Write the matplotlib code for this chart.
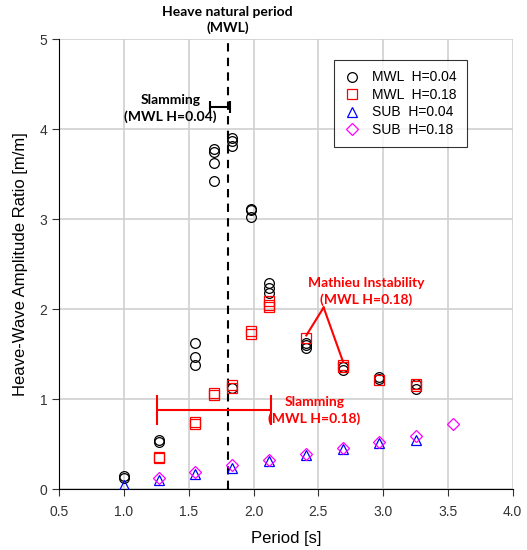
import matplotlib.pyplot as plt
import numpy as np

# heave-wave amplitude ratio vs period

# MWL H=0.04 (circles)
mwl04_x = [1.0, 1.0, 1.268, 1.268, 1.551, 1.551, 1.551, 1.693, 1.693, 1.693, 1.693,
           1.835, 1.835, 1.835, 1.835, 1.977, 1.977, 1.977, 2.121, 2.121, 2.121,
           2.407, 2.407, 2.407, 2.69, 2.69, 2.969, 2.969, 3.253, 3.253]
mwl04_y = [0.15, 0.13, 0.55, 0.53, 1.63, 1.47, 1.38, 3.78, 3.75, 3.63, 3.43,
           3.90, 3.87, 3.82, 1.12, 3.12, 3.10, 3.03, 2.29, 2.24, 2.18,
           1.63, 1.60, 1.57, 1.36, 1.33, 1.25, 1.23, 1.17, 1.11]

# MWL H=0.18 (squares)
mwl18_x = [1.268, 1.268, 1.551, 1.551, 1.693, 1.693, 1.835, 1.835, 1.977, 1.977,
           2.121, 2.121, 2.121, 2.407, 2.69, 2.69, 2.969, 3.253, 3.253]
mwl18_y = [0.36, 0.35, 0.75, 0.72, 1.07, 1.05, 1.16, 1.13, 1.76, 1.72,
           2.09, 2.05, 2.02, 1.68, 1.38, 1.36, 1.21, 1.17, 1.15]

# SUB H=0.04 (triangles)
sub04_x = [1.0, 1.268, 1.551, 1.835, 2.121, 2.407, 2.69, 2.969, 3.253]
sub04_y = [0.05, 0.10, 0.17, 0.24, 0.31, 0.38, 0.45, 0.51, 0.55]

# SUB H=0.18 (diamonds)
sub18_x = [1.268, 1.551, 1.835, 2.121, 2.407, 2.69, 2.969, 3.253, 3.54]
sub18_y = [0.12, 0.19, 0.27, 0.33, 0.39, 0.46, 0.53, 0.59, 0.73]

t_nat = 1.80

fig = plt.figure(figsize=(5.27, 5.5), dpi=100)
ax = fig.add_axes([0.1125, 0.1104, 0.8602, 0.8181])

ms = 7
ax.plot(mwl04_x, mwl04_y, 'o', mfc='none', mec='black', ms=ms, mew=0.9, label='MWL  H=0.04', zorder=3)
ax.plot(mwl18_x, mwl18_y, 's', mfc='none', mec='red', ms=ms, mew=0.9, label='MWL  H=0.18', zorder=4)
ax.plot(sub04_x, sub04_y, '^', mfc='none', mec='blue', ms=ms, mew=0.9, label='SUB  H=0.04', zorder=3)
ax.plot(sub18_x, sub18_y, 'D', mfc='none', mec='magenta', ms=6.5, mew=0.9, label='SUB  H=0.18', zorder=4)

ax.axvline(t_nat, color='black', ls=(0, (4, 3)), lw=1.5, zorder=2)

ax.set_xlim(0.5, 4.0)
ax.set_ylim(0, 5)
ax.set_xticks(np.arange(0.5, 4.01, 0.5))
ax.set_yticks(range(0, 6))
ax.set_xticklabels(['%.1f' % v for v in np.arange(0.5, 4.01, 0.5)])
ax.grid(True, color='#d0d0d0', lw=1.2, zorder=0)
ax.set_axisbelow(True)
for s in ['top', 'right']:
    ax.spines[s].set_visible(False)
ax.tick_params(direction='out', length=5, labelsize=10, colors='#333333')
ax.tick_params(axis='x', pad=6)
for lab in ax.get_xticklabels() + ax.get_yticklabels():
    lab.set_fontfamily('Liberation Sans')

ax.set_xlabel('Period [s]', fontsize=12, fontfamily='Liberation Sans', labelpad=9)
ax.set_ylabel('Heave-Wave Amplitude Ratio [m/m]', fontsize=12, fontfamily='Liberation Sans', labelpad=8)

leg = ax.legend(loc='upper right', bbox_to_anchor=(0.899, 0.954), borderaxespad=0, frameon=True,
                fancybox=False, edgecolor='black', handletextpad=0.8, borderpad=0.75,
                handlelength=1.2, labelspacing=0.25, prop={'family': 'Liberation Sans', 'size': 10})
leg.get_frame().set_linewidth(0.8)

# annotations
bold = dict(fontfamily='Lato', fontweight='bold', fontsize=10)
ax.text(t_nat, 5.06, 'Heave natural period\n(MWL)', ha='center', va='bottom',
        color='black', linespacing=1.3, **bold)

ax.errorbar([1.74], [4.25], xerr=[[0.075], [0.075]], fmt='none', ecolor='black',
            elinewidth=1.5, capsize=4.5, capthick=1.5)
ax.text(1.36, 4.23, 'Slamming\n(MWL H=0.04)', ha='center', va='center', color='black',
        linespacing=1.4, **bold)

ax.errorbar([1.698], [0.88], xerr=[[0.44], [0.44]], fmt='none', ecolor='red',
            elinewidth=1.5, capsize=11, capthick=1.5)
ax.text(2.47, 0.88, 'Slamming\n(MWL H=0.18)', ha='center', va='center', color='red',
        linespacing=1.4, **bold)

ax.text(2.87, 2.20, 'Mathieu Instability\n(MWL H=0.18)', ha='center', va='center', color='red',
        linespacing=1.4, **bold)
ax.plot([2.541, 2.407], [2.02, 1.71], color='red', lw=1.5)
ax.plot([2.541, 2.69], [2.02, 1.42], color='red', lw=1.5)

plt.savefig('out.png', dpi=100)
